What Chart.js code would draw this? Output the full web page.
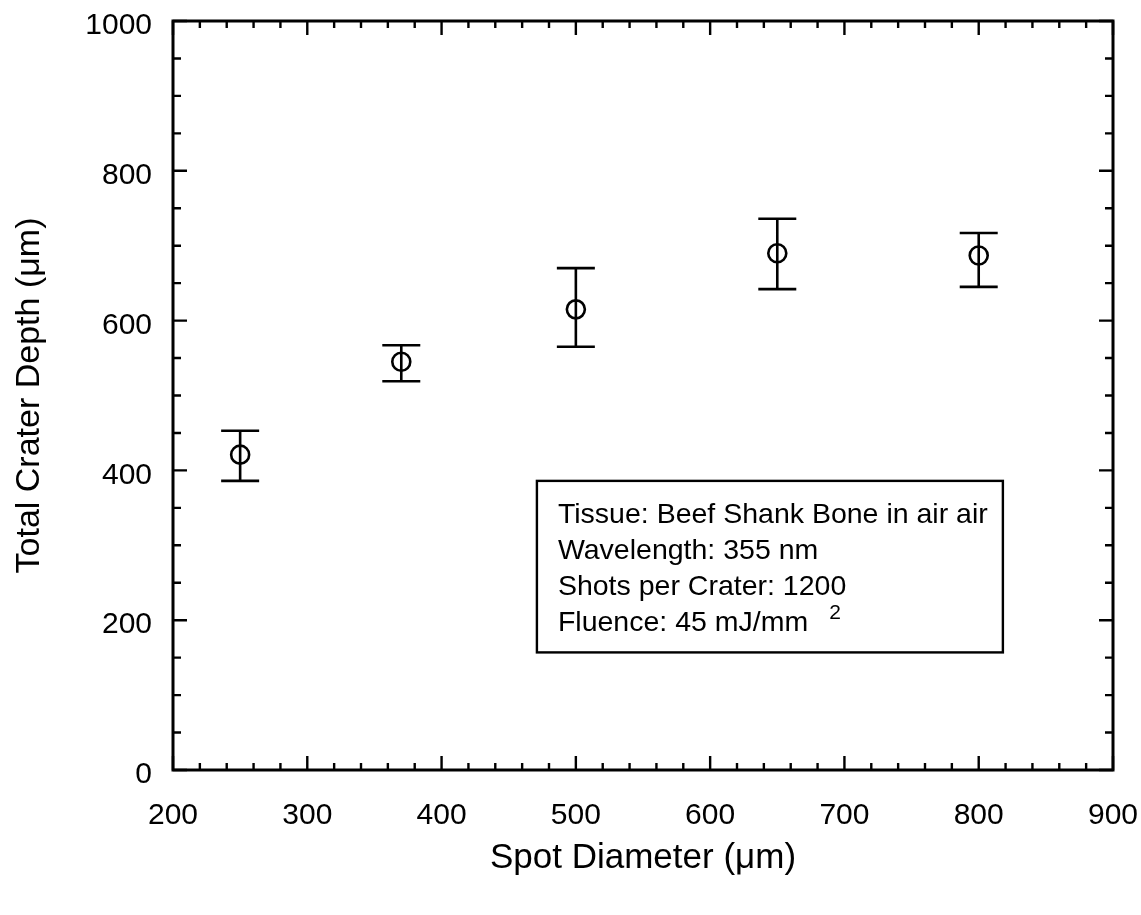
<!DOCTYPE html>
<html>
<head>
<meta charset="utf-8">
<script src="https://cdn.jsdelivr.net/npm/chart.js@4.4.1/dist/chart.umd.min.js"></script>
<style>
  html, body { margin: 0; padding: 0; background: #fff; }
</style>
</head>
<body>
<canvas id="crater" width="1141" height="915"></canvas>
<script>
const spotDiameter = [250, 370, 500, 650, 800];
const craterDepth = [421, 545, 615, 690, 687];
const depthHigh = [453, 567, 670, 736, 717];
const depthLow = [386, 519, 565, 642, 645];
const xTickLabels = [200, 300, 400, 500, 600, 700, 800, 900];
const yTickLabels = [0, 200, 400, 600, 800, 1000];
const noteLines = [
  "Tissue: Beef Shank Bone in air air",
  "Wavelength: 355 nm",
  "Shots per Crater: 1200",
  "Fluence: 45 mJ/mm",
];

const FONT = '"Liberation Sans", Arial, Helvetica, sans-serif';

// inward ticks on all four sides + frame
const frameTicks = {
  id: "frameTicks",
  afterDraw(chart) {
    const { ctx, chartArea: a } = chart;
    const x = chart.scales.x, y = chart.scales.y;
    ctx.save();
    ctx.strokeStyle = "#000";
    ctx.lineWidth = 2.4;
    ctx.beginPath();
    for (let v = x.min; v <= x.max; v += 20) {
      const px = x.getPixelForValue(v);
      const len = v % 100 === 0 ? 14 : 7;
      ctx.moveTo(px, a.bottom); ctx.lineTo(px, a.bottom - len);
      ctx.moveTo(px, a.top); ctx.lineTo(px, a.top + len);
    }
    for (let v = y.min; v <= y.max; v += 50) {
      const py = y.getPixelForValue(v);
      const len = v % 200 === 0 ? 14 : 8;
      ctx.moveTo(a.left, py); ctx.lineTo(a.left + len, py);
      ctx.moveTo(a.right, py); ctx.lineTo(a.right - len, py);
    }
    ctx.stroke();
    ctx.lineWidth = 3;
    ctx.strokeRect(a.left, a.top, a.right - a.left, a.bottom - a.top);
    ctx.restore();
  }
};

const errorBars = {
  id: "errorBars",
  afterDatasetsDraw(chart) {
    const { ctx } = chart;
    const x = chart.scales.x, y = chart.scales.y;
    ctx.save();
    ctx.strokeStyle = "#000";
    ctx.lineWidth = 2.6;
    ctx.beginPath();
    spotDiameter.forEach((d, i) => {
      const px = x.getPixelForValue(d);
      const top = y.getPixelForValue(depthHigh[i]);
      const bot = y.getPixelForValue(depthLow[i]);
      ctx.moveTo(px, top); ctx.lineTo(px, bot);
      ctx.moveTo(px - 19, top); ctx.lineTo(px + 19, top);
      ctx.moveTo(px - 19, bot); ctx.lineTo(px + 19, bot);
    });
    ctx.stroke();
    ctx.restore();
  }
};

const noteBox = {
  id: "noteBox",
  afterDraw(chart) {
    const { ctx } = chart;
    const x = chart.scales.x, y = chart.scales.y;
    const l = x.getPixelForValue(471), r = x.getPixelForValue(818);
    const t = y.getPixelForValue(386), b = y.getPixelForValue(157);
    ctx.save();
    ctx.fillStyle = "#fff";
    ctx.fillRect(l, t, r - l, b - t);
    ctx.strokeStyle = "#000";
    ctx.lineWidth = 2.4;
    ctx.strokeRect(l, t, r - l, b - t);
    ctx.fillStyle = "#000";
    ctx.font = "28.5px " + FONT;
    ctx.textBaseline = "alphabetic";
    noteLines.forEach((s, i) => {
      ctx.fillText(s, l + 21, t + 42 + i * 36);
    });
    const last = ctx.measureText(noteLines[3]).width;
    ctx.font = "21px " + FONT;
    ctx.fillText("2", l + 21 + last + 21, t + 42 + 3 * 36 - 12);
    ctx.restore();
  }
};

const noPad = (s) => { s.paddingTop = 0; s.paddingBottom = 0; s.paddingLeft = 0; s.paddingRight = 0; };

new Chart(document.getElementById("crater"), {
  type: "scatter",
  data: {
    datasets: [{
      data: spotDiameter.map((d, i) => ({ x: d, y: craterDepth[i] })),
      pointStyle: "circle",
      pointRadius: 9,
      pointHoverRadius: 9,
      borderWidth: 2.6,
      borderColor: "#000",
      backgroundColor: "rgba(0,0,0,0)",
    }]
  },
  options: {
    responsive: false,
    animation: false,
    events: [],
    layout: { padding: { top: 21, right: 28, left: 0, bottom: 0 } },
    plugins: { legend: { display: false }, tooltip: { enabled: false } },
    scales: {
      x: {
        type: "linear",
        min: xTickLabels[0],
        max: xTickLabels[xTickLabels.length - 1],
        grid: { display: false, drawTicks: false },
        border: { display: false },
        afterFit: (s) => { s.height = 145; noPad(s); },
        afterBuildTicks: (s) => { s.ticks = xTickLabels.map(v => ({ value: v })); },
        ticks: { color: "#000", padding: 28, maxRotation: 0, font: { family: FONT, size: 30 },
                 callback: (v) => String(v) },
        title: {
          display: true,
          text: "Spot Diameter (μm)",
          color: "#000",
          font: { family: FONT, size: 35 },
          padding: { top: 0, bottom: 36 }
        }
      },
      y: {
        type: "linear",
        min: yTickLabels[0],
        max: yTickLabels[yTickLabels.length - 1],
        grid: { display: false, drawTicks: false },
        border: { display: false },
        afterFit: (s) => { s.width = 173; noPad(s); },
        afterBuildTicks: (s) => { s.ticks = yTickLabels.map(v => ({ value: v })); },
        ticks: { color: "#000", padding: 21, labelOffset: 5, font: { family: FONT, size: 30 },
                 callback: (v) => String(v) },
        title: {
          display: true,
          text: "Total Crater Depth (μm)",
          color: "#000",
          font: { family: FONT, size: 34 },
          padding: { top: 9, bottom: 0 }
        }
      }
    }
  },
  plugins: [frameTicks, errorBars, noteBox]
});
</script>
</body>
</html>
